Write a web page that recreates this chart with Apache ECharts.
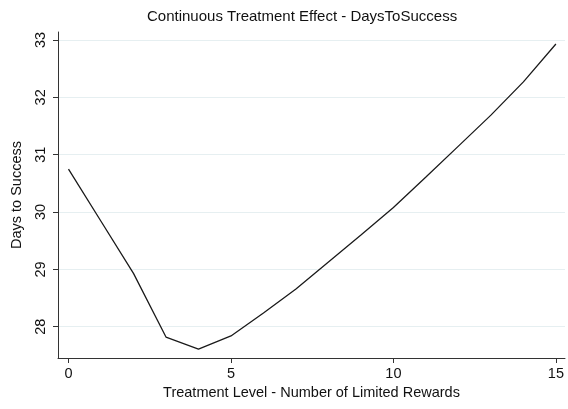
<!DOCTYPE html>
<html>
<head>
<meta charset="utf-8">
<script src="https://cdn.jsdelivr.net/npm/echarts@6/dist/echarts.min.js"></script>
<style>html,body{margin:0;padding:0;background:#fff;}#c{width:568px;height:409px;}</style>
</head>
<body>
<div id="c"></div>
<script>
var treatmentLevels = [0, 1, 2, 3, 4, 5, 6, 7, 8, 9, 10, 11, 12, 13, 14, 15];
var daysToSuccess = [30.75, 29.84, 28.93, 27.82, 27.61, 27.84, 28.24, 28.66, 29.13, 29.6, 30.08, 30.61, 31.15, 31.69, 32.27, 32.93];
var xTicks = [0, 5, 10, 15];
var yTicks = [28, 29, 30, 31, 32, 33];

var chart = echarts.init(document.getElementById('c'), null, {renderer: 'canvas'});
var font = 'Liberation Sans, Arial, Helvetica, sans-serif';
chart.setOption({
  animation: false,
  backgroundColor: '#ffffff',
  title: {
    text: 'Continuous Treatment Effect - DaysToSuccess',
    left: 142, top: 4,
    textStyle: {fontFamily: font, fontSize: 15, fontWeight: 'normal', color: '#111'}
  },
  grid: {left: 58, right: 3, top: 32, bottom: 51, containLabel: false},
  xAxis: {
    type: 'value',
    min: -0.323, max: 15.28,
    name: 'Treatment Level - Number of Limited Rewards',
    nameLocation: 'middle', nameGap: 26,
    nameTextStyle: {fontFamily: font, fontSize: 14.5, color: '#111'},
    axisLine: {show: true, onZero: false, lineStyle: {color: '#333', width: 1}},
    axisTick: {show: true, length: 5, customValues: xTicks, lineStyle: {color: '#333'}},
    axisLabel: {customValues: xTicks, fontFamily: font, fontSize: 14.5, color: '#111', margin: 8},
    splitLine: {show: false}
  },
  yAxis: {
    type: 'value',
    min: 27.455, max: 33.14,
    name: 'Days to Success',
    nameLocation: 'middle', nameGap: 34, nameRotate: 90,
    nameTextStyle: {fontFamily: font, fontSize: 14.5, color: '#111'},
    axisLine: {show: true, onZero: false, lineStyle: {color: '#333', width: 1}},
    axisTick: {show: true, length: 5, customValues: yTicks, lineStyle: {color: '#333'}},
    axisLabel: {customValues: yTicks, rotate: 90, fontFamily: font, fontSize: 14.5, color: '#111', margin: 10},
    splitLine: {show: true, lineStyle: {color: '#e6eff1', width: 1}}
  },
  series: [{
    type: 'line',
    data: treatmentLevels.map(function (x, i) { return [x, daysToSuccess[i]]; }),
    showSymbol: false,
    smooth: false,
    lineStyle: {color: '#1a1a1a', width: 1.3},
    itemStyle: {color: '#1a1a1a'}
  }]
});
</script>
</body>
</html>
